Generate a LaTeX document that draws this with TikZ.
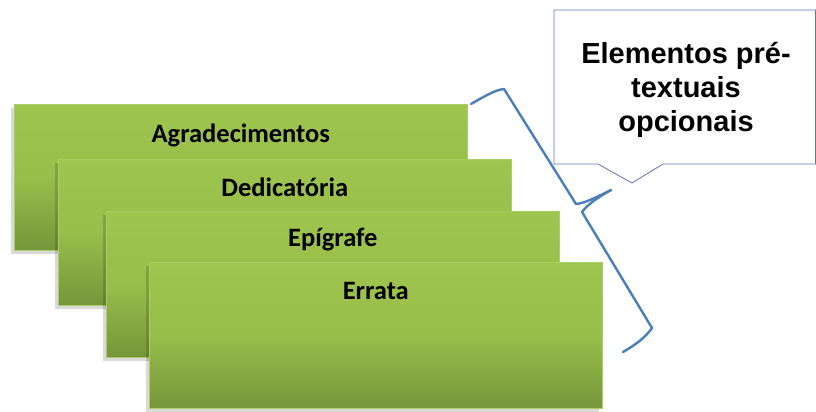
\documentclass[tikz,border=0pt]{standalone}
\usepackage{fontspec}
\setmainfont{Carlito}
\newfontfamily\arialfont{Liberation Sans}
\usetikzlibrary{calc}
\definecolor{gtop}{RGB}{158,197,78}
\definecolor{gbot}{RGB}{118,150,58}
\definecolor{gedge}{RGB}{170,205,100}
\definecolor{bracecol}{RGB}{74,126,187}
\definecolor{callcol}{RGB}{90,120,175}
\tikzset{
  greenbox/.style={rectangle, anchor=north west, minimum width=453pt, minimum height=146pt,
    inner sep=0pt, top color=gtop, bottom color=gbot, middle color=gtop!85!gbot, draw=gedge, line width=0.6pt},
  boxshadow/.style={rectangle, anchor=north west, minimum width=453pt, minimum height=146pt,
    inner sep=0pt, fill=black, fill opacity=0.15, draw=none},
  boxlabel/.style={anchor=base, font=\fontsize{26.5}{32}\selectfont\bfseries, text=black, inner sep=0pt},
  bracestyle/.style={draw=bracecol, line width=2.4pt, line cap=round, line join=round},
  callout/.style={draw=callcol, line width=0.8pt, fill=white},
}
\begin{document}
\begin{tikzpicture}[x=1pt,y=-1pt]
\useasboundingbox (0,0) rectangle (816,412);
% boxes
\foreach \i/\x/\y in {1/14/104,2/58/159,3/106/211,4/149/262}{
  \node[boxshadow] at (\x-3,\y+4) {};
  \node[greenbox] (b\i) at (\x,\y) {};
}
\node[boxlabel] (t1) at ($(b1.north)+(0,38)$) {Agradecimentos};
\node[boxlabel] (t2) at ($(b2.north)+(0,37)$) {Dedicatória};
\node[boxlabel] (t3) at ($(b3.north)+(0,35)$) {Epígrafe};
\node[boxlabel] (t4) at ($(b4.north)+(0,37)$) {Errata};
% brace
\coordinate (br1) at (471,104);
\coordinate (brtip) at (611,190);
\coordinate (br2) at (623,352);
\draw[bracestyle] (br1) .. controls (485,96) and (495,90) .. (504,89)
  -- (576,204) .. controls (585,203) and (595,198) .. (brtip);
\draw[bracestyle] (brtip) .. controls (597,198) and (588,204) .. (582,212)
  -- (652,328) .. controls (645,338) and (635,345) .. (br2);
% callout
\draw[callout] (554,10) -- (815.5,10) -- (815.5,164) -- (663,164) -- (632,183) -- (598,164) -- (554,164) -- cycle;
\node[anchor=base, align=center, font=\arialfont\fontsize{29}{34}\selectfont\bfseries, inner sep=0pt] (ct) at (686,131)
  {Elementos pré-\\textuais\\opcionais};
\end{tikzpicture}
\end{document}
